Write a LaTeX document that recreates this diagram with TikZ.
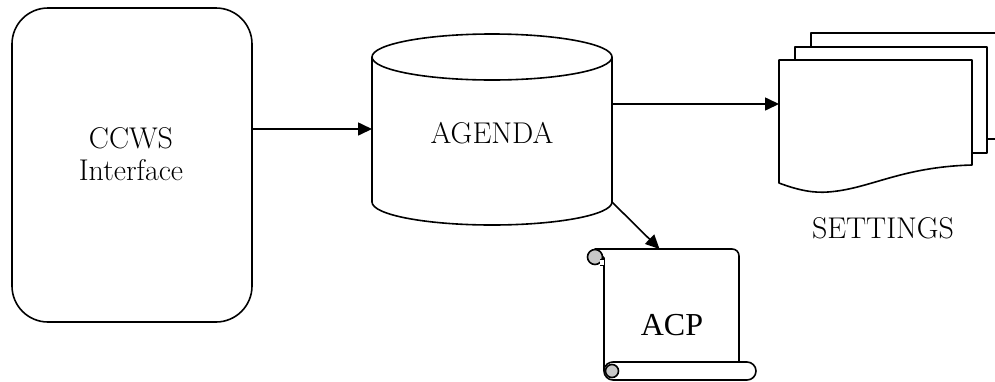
\documentclass[tikz,border=0pt]{standalone}
\usepackage{fontspec}
\newfontfamily\acpfont{Liberation Serif}[Scale=1.0]
\usetikzlibrary{arrows.meta,calc}
\definecolor{curlgray}{RGB}{200,200,200}
\tikzset{
  ln/.style={line width=1.6pt, line join=round},
  arr/.style={ln, -{Triangle[length=14pt,width=13pt]}},
  lbl/.style={font=\fontsize{30}{32}\selectfont, align=center, inner sep=0pt},
  anchorbox/.style={inner sep=0pt, outer sep=0pt}
}
\begin{document}
\begin{tikzpicture}[x=1pt,y=-1pt]
\clip (0,0) rectangle (995,381);
\fill[white] (0,0) rectangle (995,381);

% CCWS interface
\node[ln, draw, rounded corners=36pt, minimum width=240pt, minimum height=314pt, anchorbox] (ccws) at (132,165) {};
\node[lbl] (ccwstext) at (131,154) {CCWS\\Interface};

% AGENDA cylinder
\draw[ln, fill=white] (372,57) -- (372,202) arc[start angle=180, end angle=0, x radius=120, y radius=23] -- (612,57);
\draw[ln, fill=white] (492,57) ellipse[x radius=120, y radius=23];
\node[anchorbox, minimum width=240pt, minimum height=145pt] (agenda) at (492,129.5) {};
\node[lbl] (agendatext) at (492,133) {AGENDA};

% SETTINGS pages
\draw[ln, fill=white] (811,33) rectangle (1010,139);
\draw[ln, fill=white] (795,47) rectangle (987,153);
\draw[ln, fill=white] (779,60) -- (972,60) -- (972,165)
   .. controls (900,167) and (870,189) .. (828,192)
   .. controls (815,193) and (800,191) .. (779,183) -- cycle;
\node[anchorbox, minimum width=193pt, minimum height=104pt] (settings) at (875.5,112) {};
\node[lbl] (settingstext) at (883,228) {SETTINGS};

% ACP scroll
\draw[ln, fill=white] (595,249) -- (732,249) .. controls (736,249) and (739,252) .. (739,256) -- (739,362) -- (604,362) -- (604,258) -- cycle;
\draw[ln, fill=white] (613,362) -- (747,362) arc[start angle=-90, end angle=90, radius=9] -- (613,380) arc[start angle=90, end angle=180, radius=9] -- (604,258);
\draw[ln, fill=curlgray] (595,257) circle[radius=7.5];
\draw[line width=1pt, fill=white] (600,259) -- (604,259) -- (604,265) -- (600,265);
\draw[ln, fill=curlgray] (612,371) circle[radius=6.5];
\draw[ln] (604,371) .. controls (604,364) and (610,362) .. (613,362);
\node[anchorbox, minimum width=135pt, minimum height=113pt] (acp) at (671.5,305.5) {};
\node[inner sep=0pt] (acptext) at (672,325) {\acpfont\fontsize{32}{34}\selectfont ACP};

% connectors
\coordinate (lvlA) at (0,129);
\coordinate (lvlB) at (0,104);
\draw[arr] (ccws.east |- lvlA) -- (agenda.west |- lvlA);
\draw[arr] (agenda.east |- lvlB) -- (settings.west |- lvlB);
\draw[arr] (agenda.south east) -- ($(acp.north)+(-12,0)$);
\end{tikzpicture}
\end{document}
